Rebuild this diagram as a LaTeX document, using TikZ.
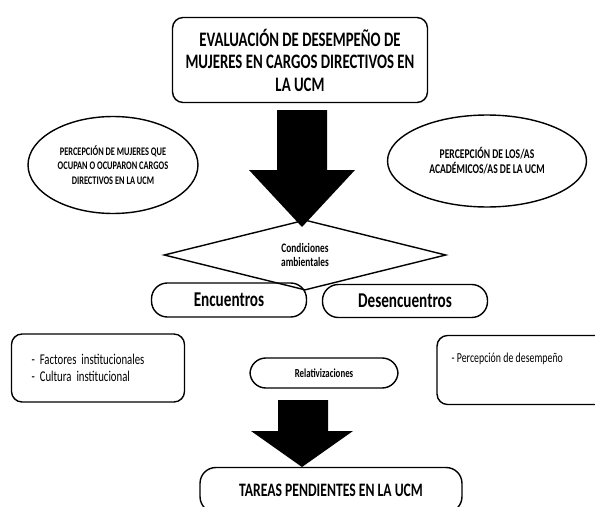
\documentclass[tikz,border=0pt]{standalone}
\usepackage{fontspec}
\setmainfont{Carlito}[FakeStretch=0.72]
\usetikzlibrary{shapes.geometric}

\begin{document}
\begin{tikzpicture}[
  x=0.02cm, y=-0.02cm,
  box/.style={draw, thick, rounded corners=6pt, inner sep=0pt, align=center},
  oval/.style={ellipse, draw, thick, inner sep=0pt, align=center},
  pill/.style={draw, thick, rounded corners=9pt, inner sep=0pt, align=center},
  blockarrow/.style={fill=black}
]
\useasboundingbox (0,0) rectangle (595,507);

% --- Title ---
\node[box, minimum width=5.1cm, minimum height=1.7cm,
  font=\bfseries\fontsize{11.7}{12.8}\selectfont] (title) at (300,60)
  {EVALUACIÓN DE DESEMPEÑO DE\\MUJERES EN CARGOS DIRECTIVOS EN\\LA UCM};

% --- Perceptions ---
\node[oval, minimum width=3.4cm, minimum height=1.94cm,
  font=\bfseries\fontsize{6.6}{8.4}\selectfont] (mujeres) at (113,165)
  {PERCEPCIÓN DE MUJERES QUE\\OCUPAN O OCUPARON CARGOS\\DIRECTIVOS EN LA UCM};
\node[oval, minimum width=3.98cm, minimum height=1.84cm,
  font=\bfseries\fontsize{7.6}{8.6}\selectfont] (academicos) at (487,161)
  {PERCEPCIÓN DE LOS/AS\\ACADÉMICOS/AS DE LA UCM};

% --- Big arrow ---
\fill[blockarrow] (277,110) -- (327,110) -- (327,170) -- (355,170)
  -- (302,227) -- (249,170) -- (277,170) -- cycle;

% --- Conditions ---
\node[diamond, draw, thick, inner sep=0pt, minimum width=5.64cm, minimum height=1.24cm,
  align=center, font=\bfseries\fontsize{7.4}{7.6}\selectfont] (condiciones) at (305,255)
  {Condiciones\\ambientales};

% --- Encounters ---
\node[pill, minimum width=3.1cm, minimum height=0.68cm,
  font=\bfseries\fontsize{12}{12}\selectfont] (encuentros) at (229,300) {Encuentros};
\node[pill, minimum width=3.3cm, minimum height=0.66cm,
  font=\bfseries\fontsize{12}{12}\selectfont] (desencuentros) at (405,301) {Desencuentros};

% --- Factors ---
\node[box, minimum width=3.46cm, minimum height=1.36cm, text width=2.66cm, align=left,
  font=\fontsize{8.5}{9.5}\selectfont] (factores) at (98,368)
  {- Factores institucionales\\- Cultura institucional};
\node[pill, minimum width=2.96cm, minimum height=0.6cm,
  font=\bfseries\fontsize{7}{7.5}\selectfont] (relativizaciones) at (324,373)
  {Relativizaciones};
\node[box, minimum width=3.4cm, minimum height=1.38cm] (desempeno) at (522,370) {};
\node[anchor=north west, inner sep=0pt, font=\fontsize{7.8}{9.5}\selectfont] (desempenotxt)
  at ([xshift=0.3cm, yshift=-0.36cm]desempeno.north west) {- Percepción de desempeño};

% --- Small arrow ---
\fill[blockarrow] (278,400) -- (328,400) -- (328,431) -- (353,431)
  -- (302,467) -- (251,431) -- (278,431) -- cycle;

% --- Pending tasks ---
\node[pill, minimum width=5.24cm, minimum height=0.9cm,
  font=\bfseries\fontsize{10.8}{12}\selectfont] (tareas) at (331,490)
  {TAREAS PENDIENTES EN LA UCM};

\end{tikzpicture}
\end{document}
